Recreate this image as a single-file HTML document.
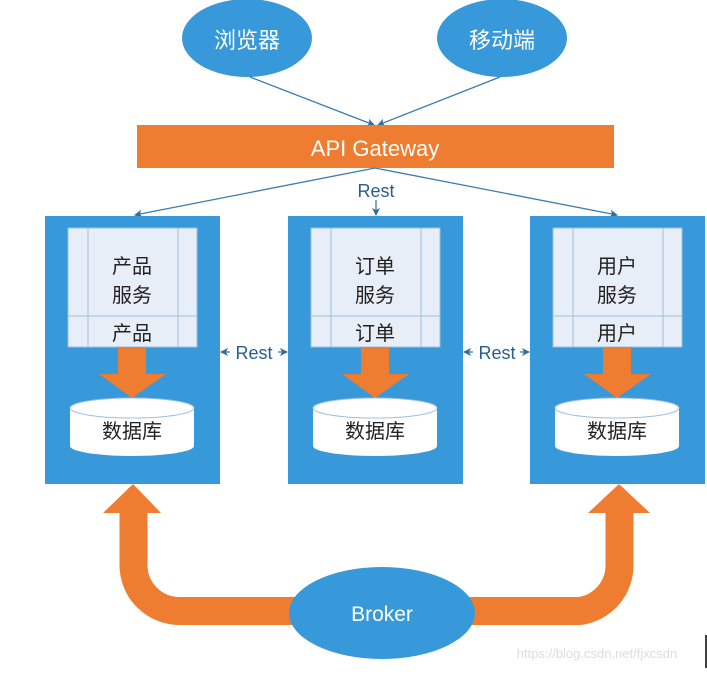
<!DOCTYPE html>
<html><head><meta charset="utf-8"><style>
body{margin:0;background:#fff}
text{font-family:"Liberation Sans","Noto Sans CJK SC",sans-serif}
</style></head><body>
<svg width="707" height="670" viewBox="0 0 707 670" xmlns="http://www.w3.org/2000/svg">
<defs>
<marker id="a" markerWidth="8" markerHeight="8" refX="7" refY="4" orient="auto" markerUnits="userSpaceOnUse"><path d="M0,0 L8,4 L0,8 L2,4z" fill="#2f6e9e"/></marker>
</defs>
<!-- top ellipses -->
<ellipse cx="247" cy="38" rx="65" ry="39" fill="#3799d9"/>
<ellipse cx="502" cy="38" rx="65" ry="39" fill="#3799d9"/>
<text x="247" y="48" font-size="22" fill="#fff" text-anchor="middle">浏览器</text>
<text x="502" y="48" font-size="22" fill="#fff" text-anchor="middle">移动端</text>
<line x1="250" y1="77" x2="374" y2="125" stroke="#3a7db0" stroke-width="1.3" marker-end="url(#a)"/>
<line x1="500" y1="77" x2="378" y2="125" stroke="#3a7db0" stroke-width="1.3" marker-end="url(#a)"/>
<rect x="137" y="125" width="477" height="43" fill="#ef7d31"/>
<text x="375" y="156" font-size="22" fill="#fff" text-anchor="middle">API Gateway</text>
<line x1="375" y1="168" x2="135" y2="215" stroke="#3a7db0" stroke-width="1.3" marker-end="url(#a)"/>
<line x1="375" y1="168" x2="617" y2="215" stroke="#3a7db0" stroke-width="1.3" marker-end="url(#a)"/>
<line x1="376" y1="200" x2="376" y2="215" stroke="#3a7db0" stroke-width="1.3" marker-end="url(#a)"/>
<rect x="355" y="178" width="42" height="22" fill="#fff"/>
<text x="376" y="197" font-size="18" fill="#265f8e" text-anchor="middle">Rest</text>

<!-- service boxes -->
<g id="box">
<rect x="45" y="216" width="175" height="268" fill="#3799d9"/>
<rect x="68" y="228" width="129" height="119" fill="#e8eef8" stroke="#9cbfe0" stroke-width="1"/>
<line x1="88" y1="228" x2="88" y2="347" stroke="#9cbfe0"/>
<line x1="178" y1="228" x2="178" y2="347" stroke="#9cbfe0"/>
<line x1="68" y1="316" x2="197" y2="316" stroke="#9cbfe0"/>
<path d="M118,347 H146 V374 H166 L132,398 L99,374 H118z" fill="#ef7d31"/>
<path d="M70,408 V446 A62,10 0 0 0 194,446 V408z" fill="#fff"/>
<ellipse cx="132" cy="408" rx="62" ry="10" fill="#fff" stroke="#9cbfe0"/>
</g>
<use href="#box" x="243"/>
<use href="#box" x="485"/>
<g font-size="20" fill="#222" text-anchor="middle">
<text x="132" y="273">产品</text><text x="132" y="302">服务</text><text x="132" y="340">产品</text><text x="132" y="438">数据库</text>
<text x="375" y="273">订单</text><text x="375" y="302">服务</text><text x="375" y="340">订单</text><text x="375" y="438">数据库</text>
<text x="617" y="273">用户</text><text x="617" y="302">服务</text><text x="617" y="340">用户</text><text x="617" y="438">数据库</text>
</g>
<!-- rest between -->
<g stroke="#3a7db0" stroke-width="1.3">
<line x1="230" y1="352" x2="221" y2="352" marker-end="url(#a)"/>
<line x1="278" y1="352" x2="287" y2="352" marker-end="url(#a)"/>
<line x1="473" y1="352" x2="464" y2="352" marker-end="url(#a)"/>
<line x1="520" y1="352" x2="529" y2="352" marker-end="url(#a)"/>
</g>
<text x="254" y="359" font-size="18" fill="#265f8e" text-anchor="middle">Rest</text>
<text x="497" y="359" font-size="18" fill="#265f8e" text-anchor="middle">Rest</text>

<!-- broker arrows -->
<path d="M133.5,512 V565 A46,46 0 0 0 179.5,611 H580 A46,46 0 0 0 619.5,565 V512" fill="none" stroke="#ef7d31" stroke-width="28"/>
<path d="M103,513 L133,484 L161,513z" fill="#ef7d31"/>
<path d="M588,513 L619,484 L650,513z" fill="#ef7d31"/>
<ellipse cx="382" cy="613" rx="93" ry="46" fill="#3799d9"/>
<text x="382" y="621" font-size="21" fill="#fff" text-anchor="middle">Broker</text>
<text x="597" y="658" font-size="13" fill="#dcdcdc" text-anchor="middle">https://blog.csdn.net/fjxcsdn</text>
<line x1="706" y1="635" x2="706" y2="668" stroke="#000" stroke-width="1.5"/>
</svg>
</body></html>
